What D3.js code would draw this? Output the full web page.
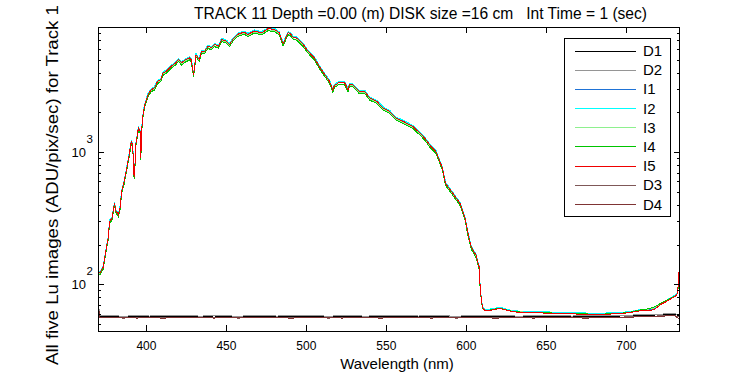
<!DOCTYPE html>
<html>
<head>
<meta charset="utf-8">
<title>Track 11 Lu</title>
<style>
  body { margin: 0; background: #fff; }
  svg { display: block; }
  text { font-family: "Liberation Sans", Arial, sans-serif; fill: #000; }
</style>
<script src="https://d3js.org/d3.v7.min.js"></script>
</head>
<body>
<script>

// wavelength grid (nm) shared by the five Lu image series
const wavelength = [370, 371, 372, 373, 374, 375, 376, 377, 378.5, 380, 381, 382.5, 383.5, 384.5, 386, 387, 388.5, 389.5, 390.5, 391.5,
  392, 392.5, 393.5, 395, 396, 396.5, 397, 398, 399, 400, 401, 403, 405, 407, 409, 410.5, 412.5, 415.5, 418, 420,
  422, 424, 427, 428, 429.5, 431, 433, 434.5, 436.5, 438.5, 440.5, 442.5, 445, 447, 450, 452, 454, 457, 461, 463.5,
  467.5, 472, 476, 480, 483, 485.5, 488.5, 490, 492, 494, 498, 501, 505, 508, 511.5, 514.5, 516.5, 517.5, 520, 524,
  526, 527, 529, 533, 536.5, 539.5, 544, 548, 552, 556, 560.5, 566.5, 571, 574, 577, 581, 585, 587, 588.5, 591.5,
  596, 599, 601, 603, 606, 608, 608.5, 609.5, 610.5, 612, 615, 618, 620, 622, 627, 632, 640, 650, 660, 670,
  683, 696, 702, 708, 713, 717, 720, 722, 725, 728, 731, 732, 732.9];

const luI1 = [125, 123, 129, 136, 161, 192, 222, 303, 318, 414, 364, 338, 384, 505, 596, 687, 859, 1010, 1212, 1141,
  707, 657, 1182, 1535, 1465, 909, 1485, 2000, 2313, 2525, 2747, 3000, 3091, 3464, 3575, 4020, 4141, 4515, 4747, 5070,
  4787, 5010, 5222, 5070, 3909, 5515, 5070, 5868, 5868, 6403, 6232, 6595, 6403, 7201, 6989, 6595, 7201, 7868, 8171, 7868,
  8333, 8080, 8676, 8585, 8080, 6666, 8080, 7979, 7413, 7373, 6595, 5868, 5222, 4515, 3909, 3464, 2980, 3232, 3373, 3373,
  3000, 3283, 3272, 2909, 2909, 2596, 2444, 2182, 2055, 1828, 1727, 1581, 1408, 1290, 1147, 1020, 768, 586, 553, 493,
  414, 327, 245, 194, 168, 136, 102, 74, 66, 64, 64.5, 65.5, 66.5, 66, 63.5, 62.3, 61.8, 61.3, 60.8, 60.3,
  59.8, 60.8, 61.8, 63.5, 64.3, 65, 69, 72, 75, 79, 83, 86, 120];

const luI2 = [126, 124, 130, 137, 163, 194, 224, 306, 321, 418, 367, 342, 388, 510, 602, 694, 867, 1020, 1224, 1153,
  714, 663, 1193, 1550, 1479, 918, 1499, 2020, 2336, 2550, 2774, 3029, 3121, 3499, 3611, 4060, 4182, 4559, 4794, 5120,
  4835, 5059, 5273, 5120, 3947, 5569, 5120, 5926, 5926, 6467, 6293, 6661, 6467, 7273, 7058, 6661, 7273, 7946, 8252, 7946,
  8415, 8160, 8762, 8670, 8160, 6732, 8160, 8058, 7487, 7446, 6661, 5926, 5273, 4559, 3947, 3499, 3009, 3264, 3407, 3407,
  3029, 3315, 3305, 2938, 2938, 2621, 2468, 2203, 2076, 1846, 1744, 1596, 1422, 1303, 1159, 1030, 775, 592, 559, 498,
  418, 330, 248, 196, 169, 138, 103, 74, 66, 64, 65, 66, 67, 66.5, 64, 62.8, 62.3, 61.8, 61.3, 60.8,
  60.3, 61.2, 62.2, 64, 64.8, 65.5, 69.5, 72.5, 75.5, 79.5, 83.5, 86.5, 118];

const luI3 = [123, 120, 126, 133, 157, 186, 216, 294, 309, 402, 353, 328, 372, 490, 578, 666, 833, 980, 1176, 1107,
  686, 637, 1147, 1490, 1421, 882, 1441, 1940, 2244, 2450, 2666, 2911, 2999, 3361, 3469, 3900, 4018, 4381, 4606, 4920,
  4645, 4861, 5067, 4920, 3793, 5351, 4920, 5694, 5694, 6213, 6047, 6399, 6213, 6987, 6782, 6399, 6987, 7634, 7928, 7634,
  8085, 7840, 8418, 8330, 7840, 6468, 7840, 7742, 7193, 7154, 6399, 5694, 5067, 4381, 3793, 3361, 2891, 3136, 3273, 3273,
  2911, 3185, 3175, 2822, 2822, 2519, 2372, 2117, 1994, 1774, 1676, 1534, 1366, 1251, 1113, 990, 745, 568, 537, 478,
  402, 318, 238, 188, 163, 132, 99, 72, 65, 63, 64, 65, 66, 65.5, 63, 62, 61.3, 60.8, 60.3, 59.8,
  59.3, 60.3, 61.3, 63.5, 64.5, 66, 69.5, 72, 75, 78.5, 82.5, 85, 115];

const luI4 = [121, 118, 124, 130, 155, 183, 212, 290, 304, 396, 347, 323, 367, 483, 569, 656, 820, 965, 1158, 1090,
  676, 627, 1129, 1467, 1399, 869, 1419, 1911, 2210, 2413, 2625, 2866, 2953, 3310, 3416, 3841, 3957, 4314, 4536, 4844,
  4574, 4786, 4989, 4844, 3735, 5269, 4844, 5607, 5607, 6118, 5954, 6301, 6118, 6880, 6678, 6301, 6880, 7517, 7807, 7517,
  7961, 7720, 8289, 8203, 7720, 6369, 7720, 7624, 7083, 7045, 6301, 5607, 4989, 4314, 3735, 3310, 2847, 3088, 3223, 3223,
  2866, 3136, 3127, 2779, 2779, 2480, 2335, 2084, 1964, 1747, 1650, 1510, 1345, 1232, 1096, 975, 733, 560, 529, 471,
  396, 313, 234, 185, 160, 130, 98, 71, 65, 63, 64, 65, 66, 65.5, 63, 61.8, 61.2, 60.8, 60.3, 59.8,
  59.3, 60.3, 61.3, 63.8, 65, 67, 70, 72.5, 75.5, 79, 82.5, 85, 110];

const luI5 = [125, 122, 128, 135, 160, 190, 220, 300, 315, 410, 360, 335, 380, 500, 590, 680, 850, 1000, 1200, 1130,
  700, 650, 1170, 1520, 1450, 900, 1470, 1980, 2290, 2500, 2720, 2970, 3060, 3430, 3540, 3980, 4100, 4470, 4700, 5020,
  4740, 4960, 5170, 5020, 3870, 5460, 5020, 5810, 5810, 6340, 6170, 6530, 6340, 7130, 6920, 6530, 7130, 7790, 8090, 7790,
  8250, 8000, 8590, 8500, 8000, 6600, 8000, 7900, 7340, 7300, 6530, 5810, 5170, 4470, 3870, 3430, 2950, 3200, 3340, 3340,
  2970, 3250, 3240, 2880, 2880, 2570, 2420, 2160, 2035, 1810, 1710, 1565, 1394, 1277, 1136, 1010, 760, 580, 548, 488,
  410, 324, 243, 192, 166, 135, 101, 73, 65, 63, 63.6, 64.5, 65.5, 65, 62.8, 61.5, 61, 60.5, 60, 59.5,
  59, 60, 61, 62.8, 63.5, 64, 68, 71, 74, 78, 82, 85, 124];

// dark images, coarser grid
const darkWavelength = [370, 371, 378, 386, 394, 402, 410, 418, 426, 434, 442, 450, 458, 466, 474, 482, 490, 498, 506, 514, 522,
  530, 538, 546, 554, 562, 570, 578, 586, 594, 602, 610, 618, 626, 634, 642, 650, 658, 666, 674, 682,
  690, 698, 706, 714, 722, 730, 733];

const darkD1 = [68, 57.5, 57.2, 56.6, 57.4, 56.8, 57.5, 56.9, 57.3, 56.7, 57.6, 57.0, 56.6, 57.4, 57.1, 56.8, 57.5, 56.9, 57.2, 56.6, 57.4,
  57.0, 56.7, 57.5, 56.9, 57.3, 56.8, 57.4, 57.0, 56.6, 57.3, 56.9, 57.5, 57.0, 56.7, 57.4, 56.9, 57.2, 56.8, 57.5, 57.0,
  57.3, 57.6, 57.9, 58.3, 58.8, 59.2, 58.0];
const darkD2 = [70, 58.0, 57.9, 57.3, 58.1, 57.5, 58.2, 57.6, 57.9, 57.4, 58.3, 57.7, 57.3, 58.0, 57.8, 57.5, 58.2, 57.6, 57.9, 57.3, 58.1,
  57.7, 57.4, 58.2, 57.6, 58.0, 57.5, 58.1, 57.7, 57.3, 58.0, 57.6, 58.2, 57.7, 57.4, 58.1, 57.6, 57.9, 57.5, 58.2, 57.7,
  58.0, 58.3, 58.6, 59.0, 59.5, 60.0, 59.0];
const darkD3 = [66, 56.2, 56.0, 55.5, 56.3, 55.7, 56.4, 55.8, 56.1, 55.6, 56.5, 55.9, 55.5, 56.2, 56.0, 55.7, 56.4, 55.8, 56.1, 55.5, 56.3,
  55.9, 55.6, 56.4, 55.8, 56.2, 55.7, 56.3, 55.9, 55.5, 56.2, 55.8, 56.4, 55.9, 55.6, 56.3, 55.8, 56.1, 55.7, 56.4, 55.9,
  56.2, 56.5, 56.8, 57.2, 57.7, 58.2, 56.5];
const darkD4 = [67, 55.8, 55.6, 56.2, 55.5, 56.1, 55.4, 56.0, 55.7, 56.3, 55.5, 55.9, 56.2, 55.6, 55.8, 56.1, 55.4, 56.0, 55.7, 56.3, 55.5,
  55.9, 56.2, 55.4, 56.0, 55.6, 56.1, 55.5, 55.9, 56.3, 55.6, 56.0, 55.4, 55.9, 56.2, 55.5, 56.0, 55.7, 56.1, 55.4, 55.9,
  55.8, 56.2, 56.6, 57.0, 57.4, 57.9, 55.0];

const xTicks = [400, 450, 500, 550, 600, 650, 700];
const yMajor = [100, 1000];
const yMinor = [50, 60, 70, 80, 90, 200, 300, 400, 500, 600, 700, 800, 900, 2000, 3000, 4000, 5000, 6000, 7000, 8000];

const titleText = "TRACK 11 Depth =0.00 (m) DISK size =16 cm   Int Time = 1 (sec)";
const xLabel = "Wavelength (nm)";
const yLabel = "All five Lu images (ADU/pix/sec) for Track 1";

// plot order as in the original (legend order)
const series = [
  { name: "D1", color: "#000000", x: darkWavelength, y: darkD1 },
  { name: "D2", color: "#959595", x: darkWavelength, y: darkD2 },
  { name: "I1", color: "#1f73d6", x: wavelength, y: luI1 },
  { name: "I2", color: "#00ffff", x: wavelength, y: luI2 },
  { name: "I3", color: "#8ef08e", x: wavelength, y: luI3 },
  { name: "I4", color: "#00c400", x: wavelength, y: luI4 },
  { name: "I5", color: "#f00000", x: wavelength, y: luI5 },
  { name: "D3", color: "#7f5858", x: darkWavelength, y: darkD3 },
  { name: "D4", color: "#7f3434", x: darkWavelength, y: darkD4 }
];

const W = 750, H = 375;
const mLeft = 98, mRight = 679, mTop = 27, mBottom = 331;

let x = d3.scaleLinear().domain([369.75, 732.9]).range([mLeft, mRight]);
let y = d3.scaleLog().domain([44.3, 8855]).range([mBottom, mTop]);

let svg = d3.select("body").append("svg")
  .attr("width", W)
  .attr("height", H)
;

svg.append("clipPath").attr("id", "plotclip")
  .append("rect").attr("x", mLeft).attr("y", mTop).attr("width", mRight - mLeft + 1).attr("height", mBottom - mTop);

let lineGen = d3.line().x(d => x(d[0])).y(d => y(d[1]));

let plot = svg.append("g").attr("clip-path", "url(#plotclip)");

plot.selectAll("path.series").data(series).enter().append("path")
  .attr("class", "series")
  .attr("d", s => lineGen(s.x.map((w, i) => [w, s.y[i]])))
  .attr("fill", "none")
  .attr("stroke", s => s.color)
  .attr("stroke-width", 1)
  .attr("shape-rendering", "crispEdges")
;

// axes box with inward ticks on all four sides
let ax = svg.append("g").attr("stroke", "#000").attr("shape-rendering", "crispEdges");

ax.append("rect")
  .attr("x", mLeft + 0.5).attr("y", mTop + 0.5)
  .attr("width", mRight - mLeft).attr("height", mBottom - mTop)
  .attr("fill", "none")
;

let xTickG = ax.selectAll("g.xtick").data(xTicks).enter().append("g").attr("class", "xtick");
xTickG.append("line")
  .attr("x1", d => Math.round(x(d)) + 0.5).attr("x2", d => Math.round(x(d)) + 0.5)
  .attr("y1", mBottom).attr("y2", mBottom - 6);
xTickG.append("line")
  .attr("x1", d => Math.round(x(d)) + 0.5).attr("x2", d => Math.round(x(d)) + 0.5)
  .attr("y1", mTop).attr("y2", mTop + 6);

let yTicks = yMajor.map(v => ({v: v, len: 6})).concat(yMinor.map(v => ({v: v, len: 3})));
let yTickG = ax.selectAll("g.ytick").data(yTicks).enter().append("g").attr("class", "ytick");
yTickG.append("line")
  .attr("y1", d => Math.round(y(d.v)) + 0.5).attr("y2", d => Math.round(y(d.v)) + 0.5)
  .attr("x1", mLeft).attr("x2", d => mLeft + d.len);
yTickG.append("line")
  .attr("y1", d => Math.round(y(d.v)) + 0.5).attr("y2", d => Math.round(y(d.v)) + 0.5)
  .attr("x1", mRight + 1).attr("x2", d => mRight + 1 - d.len);

// tick labels
svg.selectAll("text.xlab").data(xTicks).enter().append("text")
  .attr("class", "xlab")
  .attr("x", d => x(d))
  .attr("y", 349.5)
  .attr("text-anchor", "middle")
  .attr("font-size", 12)
  .text(d => d)
;

let ylab = svg.selectAll("g.ylab").data(yMajor).enter().append("g").attr("class", "ylab");
ylab.append("text")
  .attr("x", 86)
  .attr("y", d => y(d) + 4.5)
  .attr("text-anchor", "end")
  .attr("font-size", 13)
  .text("10");
ylab.append("text")
  .attr("x", 86.5)
  .attr("y", d => y(d) - 9)
  .attr("font-size", 11.5)
  .text(d => Math.round(Math.log10(d)));

// title and axis labels
svg.append("text")
  .attr("x", 194)
  .attr("y", 19)
  .attr("font-size", 16)
  .attr("textLength", 453)
  .attr("lengthAdjust", "spacingAndGlyphs")
  .style("white-space", "pre")
  .text(titleText)
;

svg.append("text")
  .attr("x", 397)
  .attr("y", 369)
  .attr("text-anchor", "middle")
  .attr("font-size", 15)
  .text(xLabel)
;

svg.append("text")
  .attr("transform", "translate(58,185) rotate(-90)")
  .attr("text-anchor", "middle")
  .attr("font-size", 16)
  .attr("textLength", 360)
  .attr("lengthAdjust", "spacingAndGlyphs")
  .text(yLabel)
;

// legend
let legend = svg.append("g").attr("class", "legend");
legend.append("rect")
  .attr("x", 564.5).attr("y", 38.5)
  .attr("width", 106).attr("height", 178)
  .attr("fill", "#fff").attr("stroke", "#000")
  .attr("shape-rendering", "crispEdges")
;
let rowY = d3.scaleLinear().domain([0, series.length - 1]).range([50.5, 204]);
let item = legend.selectAll("g.item").data(series).enter().append("g").attr("class", "item");
item.append("line")
  .attr("x1", 575).attr("x2", 636)
  .attr("y1", (d, i) => Math.round(rowY(i)) + 0.5).attr("y2", (d, i) => Math.round(rowY(i)) + 0.5)
  .attr("stroke", d => d.color)
  .attr("shape-rendering", "crispEdges")
;
item.append("text")
  .attr("x", 643)
  .attr("y", (d, i) => rowY(i) + 5.5)
  .attr("font-size", 15)
  .text(d => d.name)
;

</script>
</body>
</html>
